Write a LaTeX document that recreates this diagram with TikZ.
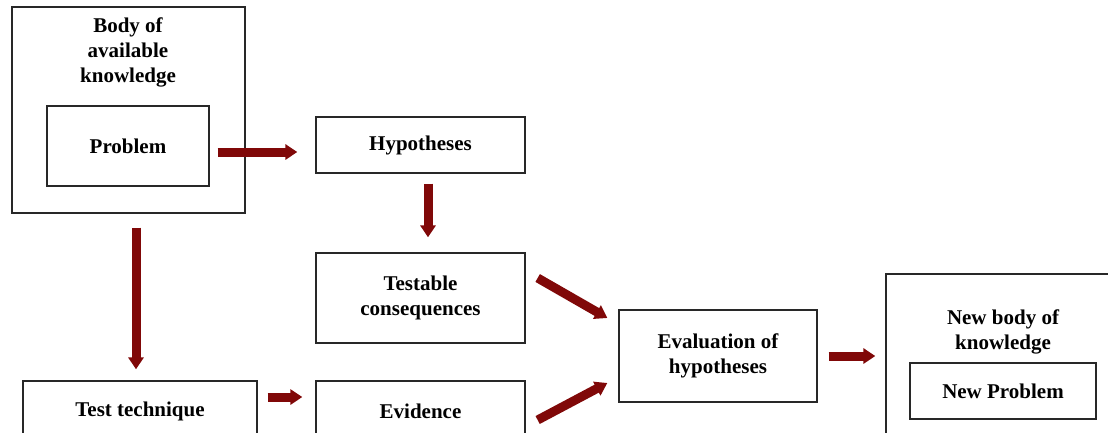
\documentclass[tikz,border=0pt]{standalone}
\usepackage{fontspec}
\setmainfont{Liberation Serif}
\usetikzlibrary{arrows.meta,calc}
\definecolor{arrowred}{RGB}{128,8,8}
\definecolor{boxline}{RGB}{40,40,40}
\begin{document}
\begin{tikzpicture}[x=1pt,y=-1pt,
  box/.style={draw=boxline, line width=1.3pt, fill=none, inner sep=0pt},
  txt/.style={font=\fontsize{21}{25}\selectfont\bfseries, align=center, inner sep=0pt},
  bigarrow/.style={draw=arrowred, line width=9pt, -{Triangle[length=12pt,width=15pt]}}]
\useasboundingbox (0,0) rectangle (1108,432);
\clip (0,0) rectangle (1108,432);
\fill[white] (0,0) rectangle (1108,432);
% boxes
\node[box, minimum width=233, minimum height=206] (body) at (128.5,110) {};
\node[txt] (bodytxt) at (128,52) {Body of\\available\\knowledge};
\node[box, minimum width=162, minimum height=80, txt] (problem) at (128,146) {Problem};
\node[box, minimum width=209, minimum height=56, txt] (hyp) at (420.5,145) {Hypotheses};
\node[box, minimum width=209, minimum height=90, txt] (test) at (420.5,298) {Testable\\consequences};
\node[box, minimum width=209, minimum height=60, txt] (evid) at (420.5,411) {Evidence};
\node[box, minimum width=234, minimum height=60, txt] (tech) at (140,411) {Test technique};
\node[box, minimum width=198, minimum height=92, txt] (eval) at (718,356) {Evaluation of\\hypotheses};
\node[box, minimum width=240, minimum height=190] (newbody) at (1006,369) {};
\node[txt] (newtxt) at (1003,332) {New body of\\knowledge};
\node[box, minimum width=186, minimum height=56, txt] (newprob) at (1003,391) {New Problem};
% arrows
\draw[bigarrow] ($(problem.east)+(8,6)$) -- ($(hyp.west)+(-18,7)$);
\draw[bigarrow] ($(hyp.south)+(7.5,10)$) -- ($(test.north)+(7.5,-15)$);
\draw[bigarrow] ($(body.south)+(7.5,14)$) -- ($(tech.north)+(-4,-11)$);
\draw[bigarrow] ($(tech.east)+(10,-14)$) -- ($(evid.west)+(-13,-14)$);
\draw[bigarrow] ($(test.east)+(12,-20)$) -- ($(eval.west)+(-11,-38)$);
\draw[bigarrow] ($(evid.east)+(12,9)$) -- ($(eval.west)+(-11,27)$);
\draw[bigarrow] ($(eval.east)+(11,0)$) -- ($(newbody.west)+(-10,-13)$);
\end{tikzpicture}
\end{document}
